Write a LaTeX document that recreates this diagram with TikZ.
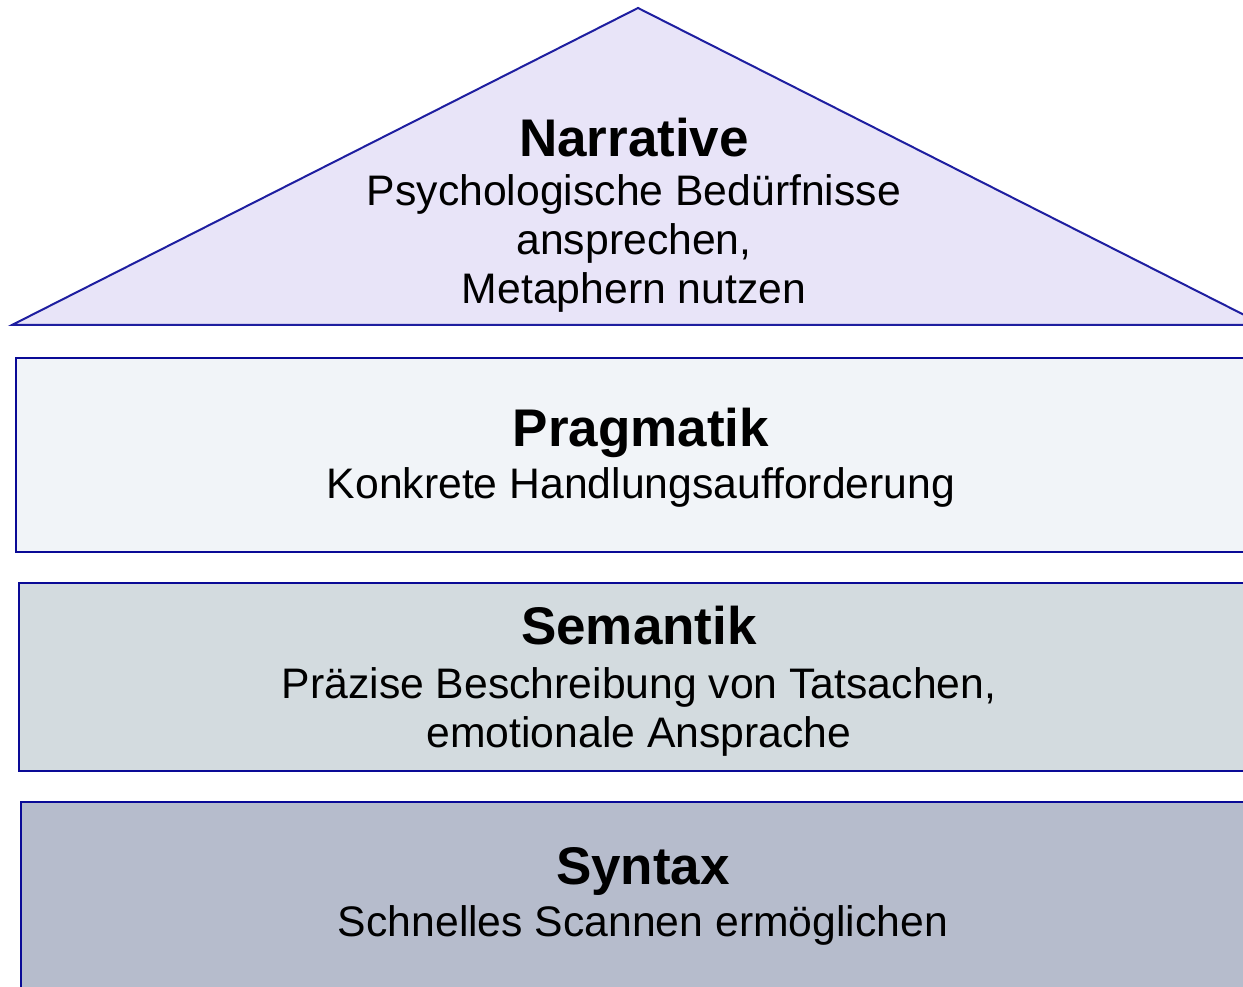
\documentclass[tikz,border=0pt]{standalone}
\usepackage{fontspec}
\setmainfont{Liberation Sans}
\usetikzlibrary{positioning}
\definecolor{edgeB}{RGB}{30,30,160}
\definecolor{boxB}{RGB}{10,10,150}
\definecolor{roofF}{RGB}{232,228,248}
\definecolor{pragF}{RGB}{241,244,248}
\definecolor{semF}{RGB}{211,219,223}
\definecolor{synF}{RGB}{182,188,204}

\begin{document}
\begin{tikzpicture}[x=1pt, y=1pt,
  layer/.style={draw=boxB, line width=2.6pt},
  title/.style={font=\fontsize{53}{60}\selectfont\bfseries, inner sep=0pt, anchor=base},
  body/.style={font=\fontsize{42.7}{49}\selectfont, align=center, inner sep=0pt, anchor=base}]
  \useasboundingbox (0,0) rectangle (1243,987);
  \clip (0,0) rectangle (1243,987);
  % roof and three layers
  \draw[layer, fill=roofF, line width=2pt, draw=edgeB] (12,662) -- (638,979) -- (1264,662) -- cycle;
  \draw[layer, fill=pragF] (16,435) rectangle (1264,629);
  \draw[layer, fill=semF] (19,216) rectangle (1261,404);
  \draw[layer, fill=synF] (21,-13) rectangle (1259,185);
  % texts (body base = last line)
  \node[title] (narr) at (634,830) {Narrative};
  \node[body] (narrB) at (634,683) {Psychologische Bedürfnisse\\ ansprechen,\\ Metaphern nutzen};
  \node[title] (prag) at (641,540) {Pragmatik};
  \node[body] (pragB) at (641,488) {Konkrete Handlungsaufforderung};
  \node[title] (sem) at (639,342) {Semantik};
  \node[body] (semB) at (639,239) {Präzise Beschreibung von Tatsachen,\\ emotionale Ansprache};
  \node[title] (syn) at (643,102) {Syntax};
  \node[body] (synB) at (643,50) {Schnelles Scannen ermöglichen};
\end{tikzpicture}
\end{document}
